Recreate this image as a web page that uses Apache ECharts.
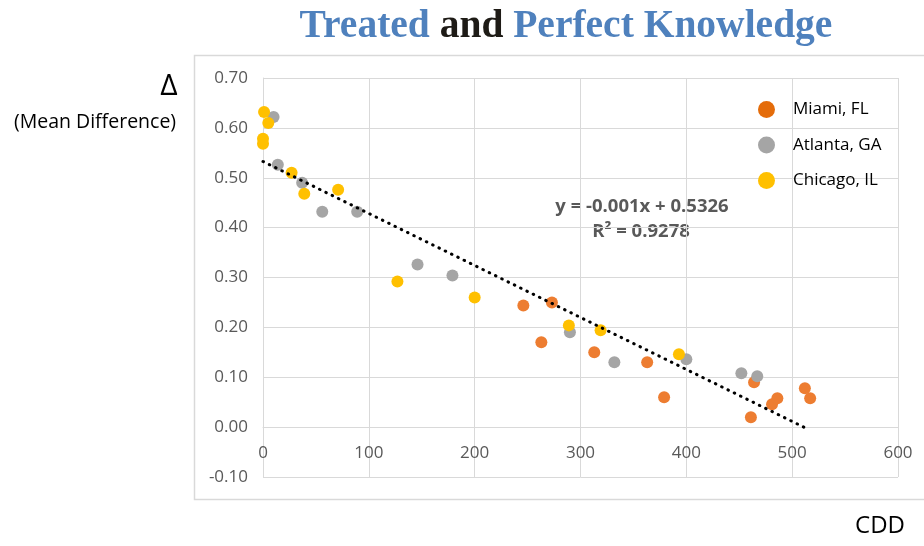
<!DOCTYPE html>
<html>
<head>
<meta charset="utf-8">
<script src="https://cdn.jsdelivr.net/npm/echarts@6/dist/echarts.min.js"></script>
<style>
html,body{margin:0;padding:0;background:#fff;}
#chart{width:924px;height:546px;}
</style>
</head>
<body>
<div id="chart"></div>
<script>
// ---- data ----
const seriesNames = ["Miami, FL", "Atlanta, GA", "Chicago, IL"];
const miamiCDD = [246, 273, 263, 313, 363, 379, 464, 461, 481, 486, 512, 517];
const miamiDelta = [0.244, 0.250, 0.170, 0.150, 0.130, 0.060, 0.090, 0.020, 0.046, 0.058, 0.078, 0.058];
const atlantaCDD = [10, 14, 37, 56, 89, 146, 179, 290, 332, 400, 452, 467];
const atlantaDelta = [0.622, 0.526, 0.490, 0.432, 0.432, 0.326, 0.304, 0.190, 0.130, 0.136, 0.108, 0.102];
const chicagoCDD = [1, 5, 0, 0, 27, 39, 71, 127, 200, 289, 319, 393];
const chicagoDelta = [0.632, 0.610, 0.578, 0.568, 0.510, 0.468, 0.476, 0.292, 0.260, 0.204, 0.194, 0.146];
const trendCDD = [0, 511];
const trendDelta = [0.5326, 0.0];
const equationText = "y = -0.001x + 0.5326";
const r2Text = "R² = 0.9278";
const xTicks = [0, 100, 200, 300, 400, 500, 600];
const yTicks = [-0.10, 0.00, 0.10, 0.20, 0.30, 0.40, 0.50, 0.60, 0.70];

const zip = (a, b) => a.map((v, i) => [v, b[i]]);
const colors = ["#ED7D31", "#A5A5A5", "#FFC000"];
const legendColors = ["#E46C0A", "#A5A5A5", "#FFC000"];

const chart = echarts.init(document.getElementById('chart'), null, {renderer: 'canvas'});
const sans = "'Open Sans', 'Liberation Sans', sans-serif";
const serif = "'Liberation Serif', serif";

const gridTop = 78, gridBottom = 69, chartH = 546;
const yMin = yTicks[0], yMax = yTicks[yTicks.length - 1];
// shift the x axis (labels) up so it sits on the y = 0 line, like the original
const plotH = chartH - gridTop - gridBottom;
const xAxisOffset = -plotH * (0 - yMin) / (yMax - yMin);

const option = {
  backgroundColor: '#ffffff',
  animation: false,
  title: {
    text: '{b|Treated }{k|and }{b|Perfect Knowledge}',
    left: 561,
    textAlign: 'center',
    top: 2,
    textStyle: {
      rich: {
        b: {fontFamily: serif, fontWeight: 'bold', fontSize: 39.5, color: '#4F81BD'},
        k: {fontFamily: serif, fontWeight: 'bold', fontSize: 39.5, color: '#1E1B16'}
      }
    }
  },
  legend: {
    orient: 'vertical',
    left: 753,
    top: 96,
    itemGap: 18.5,
    itemWidth: 17,
    itemHeight: 17,
    icon: 'circle',
    textStyle: {fontFamily: sans, fontSize: 17, color: '#000', padding: [0, 0, 0, 13]},
    data: seriesNames.map((n, i) => ({name: n, itemStyle: {color: legendColors[i]}}))
  },
  grid: {left: 263, right: 26, top: gridTop, bottom: gridBottom},
  xAxis: {
    type: 'value',
    position: 'bottom',
    offset: xAxisOffset,
    min: xTicks[0], max: xTicks[xTicks.length - 1], interval: 100,
    axisLine: {show: true, onZero: false, lineStyle: {color: '#D9D9D9', width: 1}},
    axisTick: {show: false},
    axisLabel: {fontFamily: sans, fontSize: 17, color: '#595959', margin: 18},
    splitLine: {show: true, lineStyle: {color: '#D9D9D9', width: 1}}
  },
  yAxis: {
    type: 'value',
    min: yMin, max: yMax, interval: 0.1,
    axisLine: {show: true, onZero: false, lineStyle: {color: '#D9D9D9', width: 1}},
    axisTick: {show: false},
    axisLabel: {fontFamily: sans, fontSize: 17, color: '#595959', margin: 15,
      formatter: v => v.toFixed(2)},
    splitLine: {show: true, lineStyle: {color: '#D9D9D9', width: 1}}
  },
  series: [
    {name: seriesNames[0], type: 'scatter', symbolSize: 12, data: zip(miamiCDD, miamiDelta), itemStyle: {color: colors[0], opacity: 1}, z: 3},
    {name: seriesNames[1], type: 'scatter', symbolSize: 12, data: zip(atlantaCDD, atlantaDelta), itemStyle: {color: colors[1], opacity: 1}, z: 3},
    {name: seriesNames[2], type: 'scatter', symbolSize: 12, data: zip(chicagoCDD, chicagoDelta), itemStyle: {color: colors[2], opacity: 1}, z: 3},
    {name: 'trend', type: 'line', data: zip(trendCDD, trendDelta), showSymbol: false, symbol: 'none', silent: true,
      lineStyle: {color: '#000', width: 3, type: [0.5, 6.5], cap: 'round'}, z: 4}
  ],
  graphic: [
    {type: 'rect', shape: {x: 194.5, y: 55.5, width: 800, height: 444}, style: {fill: null, stroke: '#D9D9D9', lineWidth: 1.5}, z: -1, silent: true},
    {type: 'text', x: 642, y: 207, style: {text: equationText, fontFamily: sans, fontWeight: 'bold', fontSize: 18.5, fill: '#595959', textAlign: 'center', textVerticalAlign: 'middle'}},
    {type: 'text', x: 641, y: 232, style: {text: r2Text, fontFamily: sans, fontWeight: 'bold', fontSize: 18.5, fill: '#595959', textAlign: 'center', textVerticalAlign: 'middle'}},
    {type: 'text', x: 169, y: 86, style: {text: 'Δ', fontFamily: sans, fontSize: 30, fill: '#000', textAlign: 'center', textVerticalAlign: 'middle'}},
    {type: 'text', x: 95, y: 122, style: {text: '(Mean Difference)', fontFamily: sans, fontSize: 19.5, fill: '#000', textAlign: 'center', textVerticalAlign: 'middle'}},
    {type: 'text', x: 880, y: 526, style: {text: 'CDD', fontFamily: sans, fontSize: 24, fill: '#000', textAlign: 'center', textVerticalAlign: 'middle'}}
  ]
};
chart.setOption(option);
</script>
</body>
</html>
